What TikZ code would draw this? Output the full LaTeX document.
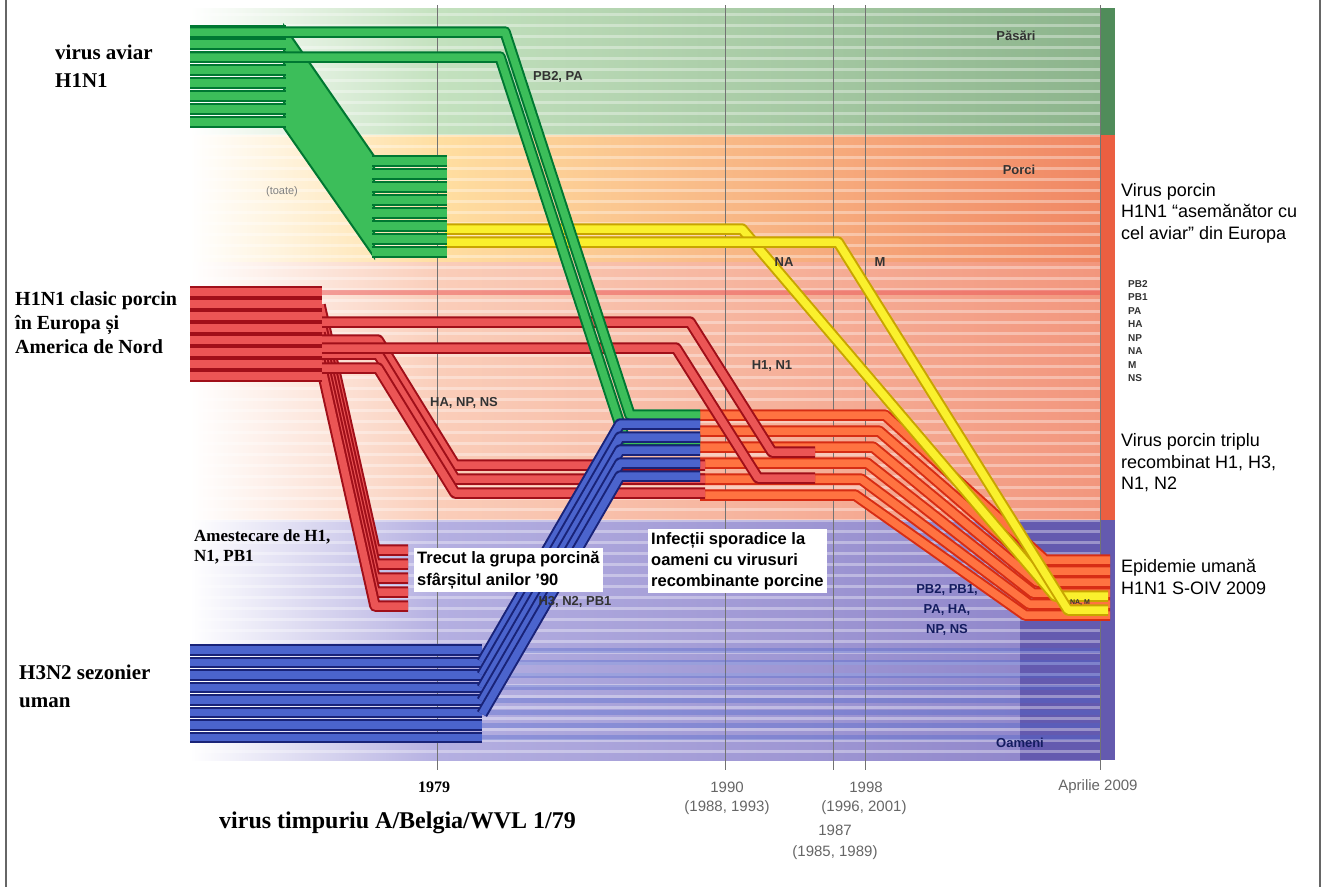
\documentclass[tikz,border=0pt]{standalone}
\usepackage{fontspec}
\setmainfont{Liberation Serif}
\setsansfont{Liberation Sans}
\definecolor{gdark}{RGB}{0,120,50}
\definecolor{glight}{RGB}{60,190,90}
\definecolor{rdark}{RGB}{160,15,25}
\definecolor{rlight}{RGB}{235,85,85}
\definecolor{odark}{RGB}{215,45,20}
\definecolor{olight}{RGB}{255,115,65}
\definecolor{bdark}{RGB}{25,35,120}
\definecolor{blight}{RGB}{75,100,205}
\definecolor{ydark}{RGB}{200,165,0}
\definecolor{ylight}{RGB}{250,240,45}
\definecolor{gbgA}{RGB}{195,225,190}
\definecolor{gbgB}{RGB}{140,180,140}
\definecolor{gbgC}{RGB}{80,140,90}
\definecolor{ybgA}{RGB}{255,222,160}
\definecolor{obgB}{RGB}{240,135,100}
\definecolor{obgC}{RGB}{235,95,65}
\definecolor{sbgA}{RGB}{250,205,185}
\definecolor{sbgB}{RGB}{242,150,125}
\definecolor{bbgA}{RGB}{180,175,225}
\definecolor{bbgB}{RGB}{140,130,200}
\definecolor{bbgC}{RGB}{100,90,175}
\begin{document}
\begin{tikzpicture}[x=1pt,y=-1pt,
  tube/.style={line width=2pt,double distance=7.5pt,line join=round},
  gtube/.style={tube,draw=gdark,double=glight},
  rtube/.style={tube,draw=rdark,double=rlight},
  otube/.style={tube,draw=odark,double=olight},
  btube/.style={tube,draw=bdark,double=blight},
  ytube/.style={tube,draw=ydark,double=ylight},
  lbl/.style={font=\bfseries\fontsize{21}{26}\selectfont,align=left,anchor=west,inner sep=1pt},
  rlbl/.style={font=\sffamily\fontsize{18}{21.5}\selectfont,align=left,anchor=west,inner sep=1pt},
  seg/.style={font=\sffamily\bfseries\fontsize{13}{15}\selectfont,text=black!80,inner sep=1pt},
  yr/.style={font=\sffamily\fontsize{15}{17}\selectfont,text=black!60,inner sep=1pt},
  txtbox/.style={fill=white,font=\sffamily\bfseries\fontsize{16.5}{22}\selectfont,align=left,anchor=north west,inner sep=3pt}]
\fill[white] (0,0) rectangle (1326,887);
\path[use as bounding box] (0,0) rectangle (1326,887);
\draw[black!60,line width=2pt] (6,0)--(6,887) (1320,0)--(1320,887);
%bands
\shade[left color=white,right color=gbgA] (190,8) rectangle (440,135);
\shade[left color=gbgA,right color=gbgB] (440,8) rectangle (1100,135);
\shade[left color=white,right color=ybgA] (190,135) rectangle (440,262);
\shade[left color=ybgA,right color=obgB] (440,135) rectangle (1100,262);
\shade[left color=white,right color=sbgA] (190,262) rectangle (440,520);
\shade[left color=sbgA,right color=sbgB] (440,262) rectangle (1100,520);
\shade[left color=white,right color=bbgA] (190,520) rectangle (440,760);
\shade[left color=bbgA,right color=bbgB] (440,520) rectangle (1100,760);
\fill[gbgC] (1100,8) rectangle (1115,135);
\fill[obgC] (1100,135) rectangle (1115,520);
\fill[bbgC] (1020,520) rectangle (1115,760);
\foreach \y in {14,25,...,758}
  \draw[white,opacity=0.35,line width=3pt] (190,\y)--(1100,\y);
\foreach \x in {437,725,833,865,1100}
  \draw[black!55,line width=0.8pt] (\x,5)--(\x,770);
%
%triple reassortant
\foreach \k in {0,...,5}{
  \pgfmathsetmacro{\y}{415+16*\k}
  \draw[otube] (700,\y)--({885-6*\k},\y)--({1045-4*\k},{560+11*\k})--(1110,{560+11*\k});
}
%classical swine
\foreach \k in {0,...,4}{
  \pgfmathsetmacro{\y}{305+14*\k}
  \draw[rtube] (320,\y)--(375,{\y+245})--(408,{\y+245});
}
\foreach \y in {340,354,368}
  \draw[rtube] (190,\y)--(378,\y)--(455,{\y+125})--(705,{\y+125});
\draw[rtube] (190,322)--(690,322)--(772,452)--(815,452);
\draw[rtube] (190,348)--(676,348)--(758,478)--(815,478);
\foreach \k in {0,...,7}{
  \pgfmathsetmacro{\y}{292+12*\k}
  \draw[rtube] (190,\y)--(322,\y);
}
\draw[rlight,opacity=0.5,line width=5pt] (322,292)--(1100,292);
%Eurasian
\draw[ytube] (445,229)--(742,229)--(1055,596)--(1108,596);
\draw[ytube] (445,242)--(838,242)--(1068,610)--(1108,610);
%avian
\filldraw[fill=glight,draw=gdark,line width=2pt] (284,26)--(374,156)--(374,257)--(284,128)--cycle;
\foreach \k in {0,...,7}{
  \pgfmathsetmacro{\y}{31+13*\k}
  \draw[gtube] (190,\y)--(286,\y);
  \draw[gtube] (372,{\y+130})--(447,{\y+130});
}
\draw[gtube] (190,32)--(505,32)--(630,415)--(700,415);
\draw[gtube] (190,57)--(500,57)--(625,440)--(700,440);
%human seasonal
\foreach \k in {0,...,7}{
  \pgfmathsetmacro{\y}{650+12.5*\k}
  \draw[blight,opacity=0.35,line width=5pt] (480,\y)--(1100,\y);
  \draw[btube] (190,\y)--(482,\y);
}
\foreach \k in {0,...,4}{
  \pgfmathsetmacro{\y}{662+13*\k}
  \draw[btube] (482,\y)--(620,{\y-238})--(700,{\y-238});
}
%text
\node[lbl,font=\bfseries\fontsize{21}{28}\selectfont] (aviar) at (54,66) {virus aviar\\H1N1};
\node[lbl,font=\bfseries\fontsize{20}{24}\selectfont] (clasic) at (14,323) {H1N1 clasic porcin\\în Europa și\\America de Nord};
\node[lbl,font=\bfseries\fontsize{17}{20}\selectfont] (amestec) at (193,547) {Amestecare de H1,\\N1, PB1};
\node[lbl,font=\bfseries\fontsize{21}{28}\selectfont] (sezonier) at (18,686) {H3N2 sezonier\\uman};
\node[lbl,font=\bfseries\fontsize{24}{26}\selectfont] (timpuriu) at (218,823) {virus timpuriu A/Belgia/WVL 1/79};
\node[rlbl] (eurasia) at (1120,213) {Virus porcin\\H1N1 “asemănător cu\\cel aviar” din Europa};
\node[rlbl] (triplu) at (1120,463) {Virus porcin triplu\\recombinat H1, H3,\\N1, N2};
\node[rlbl] (epidemie) at (1120,577) {Epidemie umană\\H1N1 S-OIV 2009};
\node[seg,align=left,anchor=west,font=\sffamily\bfseries\fontsize{10}{13.5}\selectfont] (gene) at (1127,331)
  {PB2\\PB1\\PA\\HA\\NP\\NA\\M\\NS};
\node[txtbox] (trecut) at (414,548) {Trecut la grupa porcină\\sfârșitul anilor '90};
\node[txtbox,font=\sffamily\bfseries\fontsize{16.5}{21}\selectfont] (sporadic) at (648,529) {Infecții sporadice la\\oameni cu virusuri\\recombinante porcine};
%segments
\node[seg] (pbpa) at (558,77) {PB2, PA};
\node[seg,text=black!50,font=\sffamily\fontsize{11}{13}\selectfont] (toate) at (282,192) {(toate)};
\node[seg] (hanpns) at (464,403) {HA, NP, NS};
\node[seg] (hn) at (772,366) {H1, N1};
\node[seg] (hnpb) at (575,602) {H3, N2, PB1};
\node[seg] (na) at (784,262) {NA};
\node[seg] (m) at (880,262) {M};
\node[seg,align=center,text=bdark!80!black,font=\sffamily\bfseries\fontsize{13}{20}\selectfont] (soiv) at (947,610) {PB2, PB1,\\PA, HA,\\NP, NS};
\node[seg,font=\sffamily\bfseries\fontsize{7}{8}\selectfont] (nam) at (1080,603) {NA, M};
\node[seg] (pasari) at (1016,36) {Păsări};
\node[seg] (porci) at (1019,170) {Porci};
\node[seg,text=bdark!80!black] (oameni) at (1020,743) {Oameni};
%years
\node[yr,font=\bfseries\fontsize{16}{17}\selectfont,text=black] (a1979) at (434,787) {1979};
\node[yr] (a1990) at (727,787) {1990};
\node[yr] (i1990) at (727,808) {(1988, 1993)};
\node[yr] (a1998) at (866,787) {1998};
\node[yr] (i1998) at (864,808) {(1996, 2001)};
\node[yr] (a1987) at (835,830) {1987};
\node[yr] (i1987) at (835,853) {(1985, 1989)};
\node[yr] (a2009) at (1098,787) {Aprilie 2009};
\end{tikzpicture}
\end{document}
